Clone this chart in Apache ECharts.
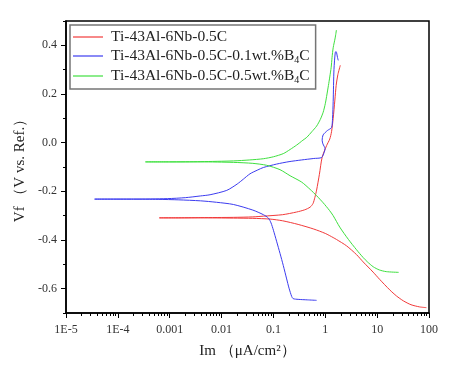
<!DOCTYPE html>
<html>
<head>
<meta charset="utf-8">
<script src="https://cdn.jsdelivr.net/npm/echarts@6/dist/echarts.min.js"></script>
<style>
html,body{margin:0;padding:0;background:#fff;}
#chart{width:474px;height:379px;}
</style>
</head>
<body>
<div id="chart"></div>
<script>
// ---- Data (current density in µA/cm², potential in V) ----
const seriesNames = [
  'Ti-43Al-6Nb-0.5C',
  'Ti-43Al-6Nb-0.5C-0.1wt.%B4C',
  'Ti-43Al-6Nb-0.5C-0.5wt.%B4C'
];

// Ti-43Al-6Nb-0.5C (cathodic end -> Ecorr -> anodic end)
const redI = [89, 66, 45, 32, 23.6, 17.5, 11.2, 8.36, 5.37, 4.0, 2.57, 1.65, 1.42, 1.0, 0.6, 0.3, 0.15, 0.086, 0.04, 0.0169, 0.0039, 0.0013, 0.00063,
  0.0013, 0.004, 0.0169, 0.04, 0.064, 0.15, 0.28, 0.4, 0.51, 0.58, 0.63, 0.68, 0.77, 0.87, 1.06, 1.22, 1.32, 1.42, 1.53, 1.62, 1.75, 1.95];
const redV = [-0.678, -0.675, -0.666, -0.650, -0.630, -0.605, -0.562, -0.532, -0.490, -0.460, -0.424, -0.398, -0.390, -0.373, -0.355, -0.336, -0.321, -0.314, -0.311, -0.310, -0.309, -0.309, -0.309,
  -0.309, -0.308, -0.307, -0.305, -0.302, -0.296, -0.285, -0.276, -0.265, -0.250, -0.225, -0.195, -0.130, -0.060, -0.012, 0.015, 0.045, 0.100, 0.175, 0.235, 0.280, 0.318];

// Ti-43Al-6Nb-0.5C-0.1wt.%B4C
const blueI = [0.68, 0.45, 0.30, 0.24, 0.225, 0.20, 0.18, 0.155, 0.134, 0.115, 0.10, 0.09, 0.08, 0.064, 0.04, 0.0169, 0.008, 0.0039, 0.0015, 0.0006, 0.0002, 0.0000356,
  0.0002, 0.0009, 0.002, 0.0039, 0.006, 0.0126, 0.02, 0.0263, 0.0353, 0.05, 0.064, 0.115, 0.2, 0.35, 0.6, 0.85, 0.95, 0.99, 0.90, 0.87, 0.91, 1.10, 1.32, 1.38, 1.42, 1.47, 1.56, 1.62, 1.72, 1.78];
const blueV = [-0.648, -0.646, -0.644, -0.641, -0.632, -0.598, -0.560, -0.505, -0.455, -0.405, -0.360, -0.330, -0.310, -0.296, -0.277, -0.254, -0.245, -0.239, -0.235, -0.233, -0.232, -0.232,
  -0.232, -0.230, -0.226, -0.219, -0.214, -0.196, -0.170, -0.150, -0.128, -0.112, -0.102, -0.088, -0.078, -0.071, -0.065, -0.061, -0.040, -0.025, -0.005, 0.010, 0.032, 0.050, 0.062, 0.100, 0.170, 0.300, 0.372, 0.374, 0.350, 0.338];

// Ti-43Al-6Nb-0.5C-0.5wt.%B4C
const greenI = [26, 15, 11, 8.4, 6.5, 5.37, 4.0, 2.8, 1.9, 1.42, 1.2, 0.91, 0.68, 0.51, 0.35, 0.21, 0.134, 0.074, 0.04, 0.0169, 0.004, 0.001, 0.00034,
  0.001, 0.004, 0.0169, 0.035, 0.064, 0.10, 0.155, 0.21, 0.28, 0.37, 0.44, 0.55, 0.68, 0.80, 0.91, 1.0, 1.06, 1.15, 1.22, 1.30, 1.35, 1.42, 1.55, 1.64];
const greenV = [-0.533, -0.530, -0.523, -0.510, -0.490, -0.472, -0.440, -0.398, -0.347, -0.300, -0.278, -0.247, -0.218, -0.192, -0.162, -0.136, -0.111, -0.093, -0.085, -0.081, -0.079, -0.079, -0.079,
  -0.079, -0.078, -0.075, -0.071, -0.066, -0.058, -0.045, -0.028, -0.010, 0.010, 0.022, 0.045, 0.068, 0.095, 0.125, 0.160, 0.190, 0.235, 0.270, 0.310, 0.350, 0.390, 0.430, 0.463];

// ---- Axis ticks / labels ----
const xTickLabels = ['1E-5', '1E-4', '0.001', '0.01', '0.1', '1', '10', '100'];
const xDecadeExp = [-5, -4, -3, -2, -1, 0, 1, 2];
const yMajorTicks = [-0.6, -0.4, -0.2, 0.0, 0.2, 0.4];
const yMajorLabels = ['-0.6', '-0.4', '-0.2', '0.0', '0.2', '0.4'];
// tick positions in log10 space for the tick-only helper axes
const xMinorTickExp = [];
for (let d = 0; d < xDecadeExp.length - 1; d++) {
  for (let m = 2; m <= 9; m++) xMinorTickExp.push(xDecadeExp[d] + Math.log10(m));
}

const colors = ['#f23a3a', '#3c3cf0', '#3ee03e'];
const FONT = 'Liberation Serif';

function pairs(xs, ys) { return xs.map((x, i) => [x, ys[i]]); }
const seriesData = [pairs(redI, redV), pairs(blueI, blueV), pairs(greenI, greenV)];

const tickStyle = {color: '#000', width: 1};

function tickAxis(vals, len) {
  return {
    type: 'value', min: -5, max: 2, position: 'bottom',
    axisLine: {show: false, onZero: false},
    axisTick: {show: true, length: len, customValues: vals, lineStyle: tickStyle},
    axisLabel: {show: false},
    splitLine: {show: false}
  };
}

const chart = echarts.init(document.getElementById('chart'), null, {renderer: 'canvas'});
chart.setOption({
  animation: false,
  backgroundColor: '#fff',
  grid: {left: 66, right: 45, top: 21, bottom: 66, show: true, borderColor: '#000', borderWidth: 1.5, backgroundColor: 'transparent'},
  legend: {
    orient: 'vertical', left: 70, top: 25,
    padding: [4, 6, 4, 3],
    borderColor: '#757575', borderWidth: 1.5,
    icon: 'rect', itemWidth: 30, itemHeight: 1.2, itemGap: 3,
    data: seriesNames,
    formatter: function (name) {
      if (/B4C$/.test(name)) {
        return '{t|' + name.slice(0, -2) + '}{s|4}{c|C}';
      }
      return '{t|' + name + '}';
    },
    textStyle: {
      rich: {
        t: {fontSize: 15.5, fontFamily: FONT, color: '#222', lineHeight: 18, verticalAlign: 'middle', padding: [0, 0, 0, 3]},
        c: {fontSize: 15.5, fontFamily: FONT, color: '#222', lineHeight: 18, verticalAlign: 'middle'},
        s: {fontSize: 10, fontFamily: FONT, color: '#222', lineHeight: 10, verticalAlign: 'bottom'}
      }
    }
  },
  xAxis: [{
    type: 'log', logBase: 10, min: 1e-5, max: 100, interval: 1, position: 'bottom',
    name: 'Im （μA/cm²）', nameLocation: 'middle', nameGap: 31,
    nameTextStyle: {fontSize: 15, fontFamily: FONT, color: '#222'},
    axisLine: {show: true, onZero: false, lineStyle: {color: '#000', width: 1.5}},
    axisTick: {show: true, length: 5, lineStyle: tickStyle},
    axisLabel: {
      show: true, margin: 11, fontSize: 12, fontFamily: FONT, color: '#333',
      formatter: function (v) {
        const k = Math.round(Math.log10(v)) + 5;
        return xTickLabels[k] !== undefined ? xTickLabels[k] : '';
      }
    },
    splitLine: {show: false}
  }, tickAxis(xDecadeExp, 5), tickAxis(xMinorTickExp, 3)],
  yAxis: [{
    type: 'value', min: -0.7, max: 0.5, interval: 0.1, position: 'left',
    name: 'Vf （V vs. Ref.）', nameLocation: 'middle', nameGap: 33, nameRotate: 90,
    nameTextStyle: {fontSize: 15, fontFamily: FONT, color: '#222'},
    axisLine: {show: true, onZero: false, lineStyle: {color: '#000', width: 1.5}},
    axisTick: {show: true, length: 3, lineStyle: tickStyle},
    axisLabel: {
      customValues: yMajorTicks, margin: 9, fontSize: 12, fontFamily: FONT, color: '#333',
      formatter: function (v) {
        const k = yMajorTicks.findIndex(t => Math.abs(t - v) < 1e-6);
        return k >= 0 ? yMajorLabels[k] : '';
      }
    },
    splitLine: {show: false}
  }, {
    type: 'value', min: -0.7, max: 0.5, position: 'left',
    axisLine: {show: false, onZero: false},
    axisTick: {show: true, length: 5, customValues: yMajorTicks, lineStyle: tickStyle},
    axisLabel: {show: false},
    splitLine: {show: false}
  }],
  series: seriesNames.map((n, i) => ({
    name: n, type: 'line', data: seriesData[i],
    xAxisIndex: 0, yAxisIndex: 0,
    showSymbol: false, symbol: 'none', smooth: 0.25,
    lineStyle: {color: colors[i], width: 1},
    itemStyle: {color: colors[i]}
  }))
});
</script>
</body>
</html>
